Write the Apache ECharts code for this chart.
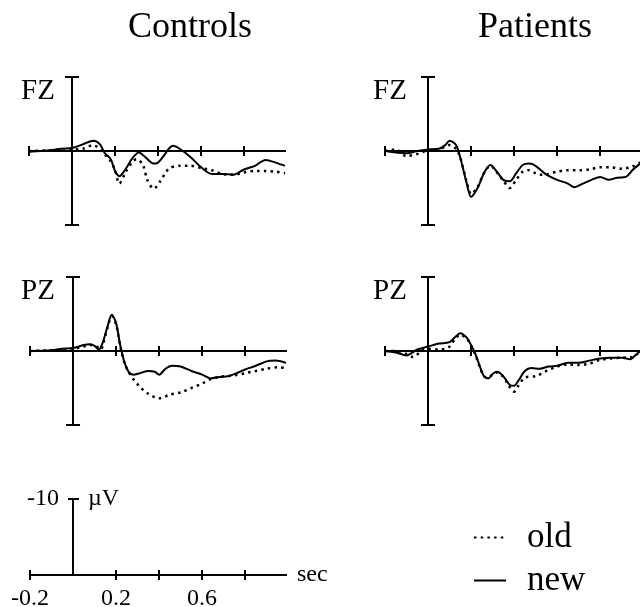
<!DOCTYPE html>
<html lang="en">
<head>
    <meta charset="UTF-8">
    <title>ERP old/new</title>
    <script src="https://cdn.jsdelivr.net/npm/echarts@6/dist/echarts.min.js"></script>
    <style>
        html, body { margin: 0; padding: 0; background: #fff; }
    </style>
</head>
<body>
    <div id="main" style="width: 640px;height:607px;"></div>
    <script type="text/javascript">
        // time in s, amplitude in µV (negative drawn upward)
        var columns = ['Controls', 'Patients'];
        var sites = ['FZ', 'FZ', 'PZ', 'PZ'];
        var timeTicks = [-0.2, 0.2, 0.4, 0.6, 0.8];
        var timeLabels = [-0.2, 0.2, 0.6];
        var ampTicks = [-10, 10];
        var scaleTicks = [-10];

        var ctrlFzOld = [[-0.2,0],[-0.1,-0.1],[0,-0.2],[0.05,-0.3],[0.1,-0.8],[0.13,-0.2],[0.15,0.4],[0.18,1.4],[0.2,2.6],[0.22,4.4],[0.25,2.8],[0.28,1.5],[0.3,1.1],[0.33,1.9],[0.35,3.9],[0.38,5.1],[0.41,4.1],[0.45,2.4],[0.5,2.0],[0.55,2.0],[0.6,2.3],[0.65,2.6],[0.7,3.1],[0.75,3.2],[0.8,2.9],[0.85,2.7],[0.9,2.7],[0.95,2.8],[0.99,3.0]];
        var ctrlFzNew = [[-0.2,0.1],[-0.1,-0.1],[-0.05,-0.3],[0,-0.4],[0.05,-0.9],[0.1,-1.4],[0.13,-0.9],[0.15,0.2],[0.18,1.1],[0.2,2.7],[0.22,3.4],[0.25,2.4],[0.28,1.0],[0.31,0.2],[0.34,0.8],[0.37,1.6],[0.39,1.7],[0.42,0.9],[0.45,-0.3],[0.47,-0.7],[0.5,-0.3],[0.55,0.8],[0.6,2.2],[0.65,3.1],[0.7,3.1],[0.75,3.2],[0.8,2.5],[0.85,2.0],[0.9,1.2],[0.95,1.6],[0.99,2.0]];
        var ptFzOld = [[-0.2,0],[-0.15,-0.2],[-0.1,0.7],[-0.05,0.4],[0,-0.1],[0.05,-0.2],[0.1,-0.8],[0.13,-0.3],[0.15,0.9],[0.18,4.2],[0.2,5.8],[0.23,4.9],[0.26,3.0],[0.29,2.0],[0.32,2.9],[0.35,4.0],[0.38,5.0],[0.41,3.9],[0.44,2.8],[0.47,2.6],[0.5,3.0],[0.53,3.2],[0.56,3.1],[0.6,2.8],[0.65,2.6],[0.7,2.6],[0.75,2.5],[0.8,2.2],[0.85,2.2],[0.9,2.4],[0.95,2.1],[0.99,1.5]];
        var ptFzNew = [[-0.2,0],[-0.1,0.3],[-0.05,0],[0,-0.2],[0.05,-0.3],[0.08,-0.8],[0.1,-1.4],[0.13,-0.8],[0.15,0.9],[0.18,4.4],[0.2,6.2],[0.23,5.0],[0.26,3.0],[0.29,1.9],[0.32,2.8],[0.35,3.9],[0.38,4.1],[0.41,3.0],[0.44,1.9],[0.47,1.7],[0.5,2.0],[0.55,3.2],[0.6,3.9],[0.65,4.4],[0.68,4.9],[0.72,4.4],[0.76,3.9],[0.8,3.5],[0.84,3.9],[0.88,3.6],[0.92,3.5],[0.95,2.6],[0.99,1.6]];
        var ctrlPzOld = [[-0.2,0],[-0.1,-0.1],[0,-0.3],[0.05,-0.6],[0.08,-0.8],[0.11,-0.6],[0.13,-0.2],[0.14,-1.0],[0.16,-3.1],[0.18,-4.7],[0.2,-3.6],[0.22,-0.6],[0.24,1.7],[0.26,2.9],[0.28,3.8],[0.31,4.8],[0.35,5.8],[0.4,6.4],[0.45,5.9],[0.5,5.6],[0.55,5.0],[0.6,4.4],[0.64,3.8],[0.68,3.5],[0.75,3.3],[0.8,3.0],[0.85,2.7],[0.9,2.4],[0.95,2.2],[0.99,2.3]];
        var ctrlPzNew = [[-0.2,0],[-0.1,-0.1],[-0.05,-0.3],[0,-0.4],[0.05,-0.8],[0.08,-0.9],[0.1,-0.7],[0.12,-0.2],[0.14,-1.3],[0.16,-3.3],[0.18,-4.9],[0.2,-3.8],[0.22,-0.7],[0.24,1.6],[0.26,2.9],[0.28,3.2],[0.31,3.0],[0.35,2.7],[0.38,2.8],[0.4,3.2],[0.43,2.4],[0.46,2.0],[0.5,2.1],[0.55,2.7],[0.6,3.2],[0.64,3.7],[0.68,3.5],[0.72,3.4],[0.76,3.0],[0.8,2.5],[0.85,2.0],[0.9,1.4],[0.94,1.3],[0.99,1.6]];
        var ptPzOld = [[-0.2,0],[-0.15,0],[-0.1,0.4],[-0.07,0.8],[-0.03,0],[0,-0.3],[0.05,-0.2],[0.08,-0.3],[0.1,-0.6],[0.13,-1.8],[0.15,-2.2],[0.18,-1.7],[0.2,-0.7],[0.22,0.5],[0.24,2.1],[0.26,3.4],[0.28,3.6],[0.3,3.2],[0.32,2.9],[0.34,3.2],[0.36,3.9],[0.38,4.9],[0.4,5.5],[0.42,4.7],[0.45,3.6],[0.5,3.4],[0.55,2.7],[0.6,2.1],[0.65,1.8],[0.7,1.9],[0.75,1.7],[0.8,1.2],[0.85,1.0],[0.9,0.9],[0.95,0.8],[0.99,0]];
        var ptPzNew = [[-0.2,0],[-0.15,0.2],[-0.1,0.6],[-0.05,-0.2],[0,-0.6],[0.05,-1.0],[0.1,-1.2],[0.13,-2.0],[0.15,-2.4],[0.18,-1.8],[0.2,-0.8],[0.22,0.4],[0.24,2.0],[0.26,3.4],[0.28,3.7],[0.3,3.1],[0.32,2.8],[0.34,3.1],[0.36,3.8],[0.38,4.6],[0.4,4.7],[0.42,4.0],[0.45,2.7],[0.48,2.3],[0.52,2.4],[0.56,2.1],[0.6,2.0],[0.65,1.6],[0.7,1.6],[0.75,1.3],[0.8,1.0],[0.85,0.9],[0.9,0.9],[0.94,1.1],[0.97,0.4],[0.99,0]];

        var oldData = [ctrlFzOld, ptFzOld, ctrlPzOld, ptPzOld];
        var newData = [ctrlFzNew, ptFzNew, ctrlPzNew, ptPzNew];

        var serif = "'Liberation Serif', 'DejaVu Serif', serif";
        // panel boxes: controls FZ, patients FZ, controls PZ, patients PZ, time scale
        var boxes = [[29, 77, 148], [385, 77, 148], [30, 277, 148], [385, 277, 148], [30, 499, 76]];

        var grid = [], xAxis = [], yAxis = [], series = [];
        var small = {color: '#000', fontFamily: serif, fontSize: 24};
        var black = {color: '#000', width: 2};

        boxes.forEach(function (b, i) {
            var isScale = i === 4;
            grid.push({left: b[0], top: b[1], width: 256, height: b[2],
                containLabel: false, outerBoundsMode: 'none'});
            // a pair of axes each way (one per side) so the ticks cross the lines
            [0, 1].forEach(function (k) {
                xAxis.push({
                    type: 'value', gridIndex: i, position: k ? 'top' : 'bottom',
                    min: -0.2, max: 0.99,
                    axisLine: {onZero: true, onZeroAxisIndex: 2 * i, lineStyle: black},
                    axisTick: {show: true, length: 5, customValues: timeTicks, lineStyle: black},
                    axisLabel: Object.assign({show: isScale && !k, customValues: timeLabels, margin: 12}, small),
                    splitLine: {show: false},
                    name: isScale && !k ? 'sec' : '', nameLocation: 'end', nameGap: 11,
                    nameTextStyle: small
                });
                yAxis.push({
                    type: 'value', gridIndex: i, position: k ? 'right' : 'left', inverse: true,
                    min: -10, max: isScale ? 0 : 10, show: !isScale,
                    axisLine: {onZero: true, onZeroAxisIndex: 2 * i, lineStyle: black},
                    axisTick: {show: true, length: 7, customValues: ampTicks, lineStyle: black},
                    axisLabel: {show: false},
                    splitLine: {show: false}
                });
            });
        });

        // calibration bar: -10 µV
        grid.push({left: 73, top: 499, width: 1, height: 76, containLabel: false, outerBoundsMode: 'none'});
        xAxis.push({type: 'value', gridIndex: 5, min: 0, max: 1, show: false});
        [0, 1].forEach(function (k) {
            yAxis.push({
                type: 'value', gridIndex: 5, position: k ? 'right' : 'left', inverse: true,
                min: -10, max: 0,
                axisLine: {show: !k, onZero: false, lineStyle: black},
                axisTick: {show: true, length: 5, customValues: scaleTicks, lineStyle: black},
                axisLabel: Object.assign({show: true, customValues: scaleTicks, margin: 14,
                    formatter: function (v) { return k ? 'µV' : String(v); }}, small),
                splitLine: {show: false}
            });
        });

        for (var p = 0; p < 4; p++) {
            series.push({
                name: 'old', type: 'line', xAxisIndex: 2 * p, yAxisIndex: 2 * p,
                data: oldData[p], symbol: 'none', smooth: 0.3,
                lineStyle: {color: '#000', width: 2.5, type: [2.5, 4.2]}
            });
            series.push({
                name: 'new', type: 'line', xAxisIndex: 2 * p, yAxisIndex: 2 * p,
                data: newData[p], symbol: 'none', smooth: 0.3,
                lineStyle: {color: '#000', width: 2}
            });
        }

        var title = [
            {text: columns[0], left: 128, top: 10},
            {text: columns[1], left: 478, top: 10},
            {text: sites[0], left: 21, top: 77, fs: 29},
            {text: sites[1], left: 373, top: 77, fs: 29},
            {text: sites[2], left: 21, top: 277, fs: 29},
            {text: sites[3], left: 373, top: 277, fs: 29}
        ].map(function (t) {
            return {text: t.text, left: t.left, top: t.top, padding: 0,
                textStyle: {color: '#000', fontFamily: serif, fontWeight: 'normal', fontSize: t.fs || 36}};
        });

        var myChart = echarts.init(document.getElementById('main'));
        myChart.setOption({
            animation: false,
            backgroundColor: '#fff',
            title: title,
            legend: {
                data: ['old', 'new'], orient: 'vertical', left: 473, top: 520, padding: 0,
                itemWidth: 32, itemHeight: 14, itemGap: 8,
                itemStyle: {color: 'rgba(0,0,0,0)', borderWidth: 0},
                textStyle: {color: '#000', fontFamily: serif, fontSize: 35, padding: [0, 0, 0, 16]}
            },
            grid: grid,
            xAxis: xAxis,
            yAxis: yAxis,
            series: series
        });
    </script>
</body>
</html>
